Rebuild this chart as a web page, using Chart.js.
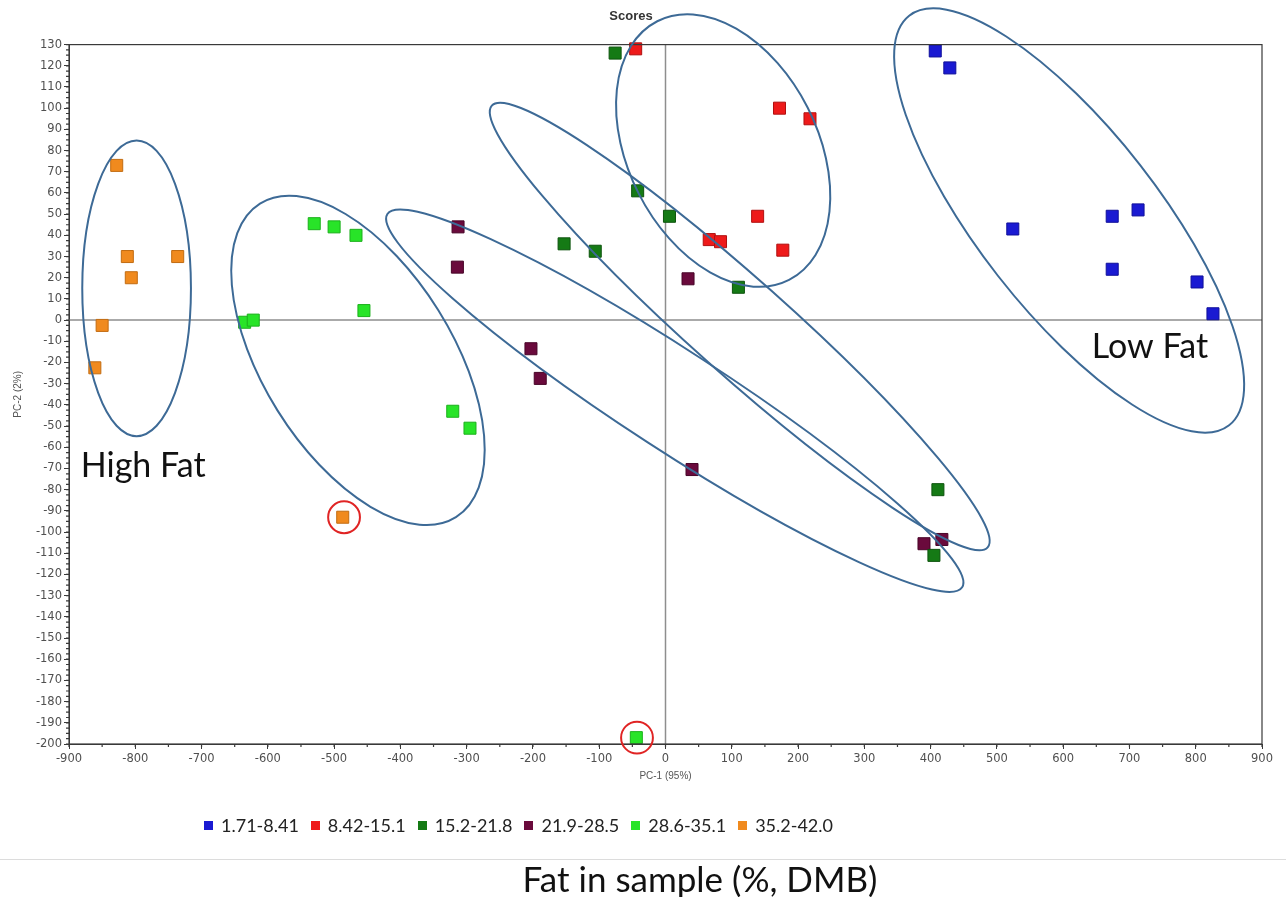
<!DOCTYPE html>
<html>
<head>
<meta charset="utf-8">
<script src="https://cdn.jsdelivr.net/npm/chart.js@4.4.0/dist/chart.umd.min.js"></script>
<style>
  html, body { margin: 0; padding: 0; background: #fff; }
  #wrap { position: relative; width: 1286px; height: 897px; overflow: hidden; }
  #wrap canvas { position: absolute; left: 0; top: 0; }
  #legend { position: absolute; left: 204px; top: 814px; display: flex; font: 18px Lato, sans-serif; line-height: 22px; color: #222; }
  .lg-item { display: flex; align-items: center; margin-right: 12px; }
  .lg-box { width: 9px; height: 9px; margin-right: 8px; }
  #sep { position: absolute; left: 0; top: 859px; width: 1286px; border-top: 1px solid #dcdcdc; }
  #caption { position: absolute; left: 450px; width: 500px; top: 857px; text-align: center; font: 35px Lato, sans-serif; line-height: 42px; color: #111; }
</style>
</head>
<body>
<div id="wrap">
  <canvas id="scores" width="1286" height="897"></canvas>
  <div id="legend"></div>
  <div id="sep"></div>
  <div id="caption">Fat in sample (%, DMB)</div>
</div>
<script>
/* ── Data (PC-1 / PC-2 scores) ─────────────────────────── */
const groupLabels = ['1.71-8.41', '8.42-15.1', '15.2-21.8', '21.9-28.5', '28.6-35.1', '35.2-42.0'];

const blueX = [407, 429, 524, 674, 713, 674, 802, 826];
const blueY = [127, 119, 43, 49, 52, 24, 18, 3];

const redX = [-45, 172, 218, 139, 66, 83, 177];
const redY = [128, 100, 95, 49, 38, 37, 33];

const darkGreenX = [-76, -42, 6, -153, -106, 110, 411, 405];
const darkGreenY = [126, 61, 49, 36, 32.5, 15.5, -80, -111];

const maroonX = [-313, -314, -203, -189, 34, 40, 390, 417];
const maroonY = [44, 25, -13.5, -27.5, 19.5, -70.5, -105.5, -103.5];

const lightGreenX = [-530, -500, -467, -455, -635, -622, -321, -295, -44];
const lightGreenY = [45.5, 44, 40, 4.5, -1, 0, -43, -51, -197];

const orangeX = [-828, -812, -806, -736, -850, -861, -487];
const orangeY = [73, 30, 20, 30, -2.5, -22.5, -93];

const xTickMin = -900, xTickMax = 900, xTickStep = 100;
const yTickMin = -200, yTickMax = 130, yTickStep = 10;

/* cluster outlines: centre (data), half-axes in PC-1 units, tilt on screen (deg) */
const ellipseCx = [-798, -464, 14, 112, 87, 609];
const ellipseCy = [15, -19, -38, -3, 80, 47];
const ellipseA = [223, 279, 517, 501, 219, 392];
const ellipseB = [82, 143, 75, 72, 143, 136];
const ellipseTilt = [90, 58, 33, 41.7, 63, 52];

/* outliers ringed in red */
const ringX = [-485, -43];
const ringY = [-93, -197];

const noteText = ['High Fat', 'Low Fat'];
const noteX = [-788, 731];
const noteY = [-69, -12.5];

/* ── Styling ─────────────────────────────────────────── */
const groupX = [blueX, redX, darkGreenX, maroonX, lightGreenX, orangeX];
const groupY = [blueY, redY, darkGreenY, maroonY, lightGreenY, orangeY];
const groupFill = ['#1a1ad2', '#ee1a1a', '#157a15', '#6a0a3c', '#28e428', '#f08a1e'];
const groupEdge = ['#10109a', '#b01010', '#0d540d', '#480528', '#1cb01c', '#c26c12'];

const tickFont = { family: 'DejaVu Sans, Verdana, sans-serif', size: 11.5 };
const axisTitleFont = { family: 'Liberation Sans, Arial, sans-serif', size: 10 };

const overlay = {
  id: 'overlay',
  beforeDatasetsDraw(chart) {
    const { ctx, chartArea: a, scales: { x, y } } = chart;
    const x0 = x.getPixelForValue(0), y0 = y.getPixelForValue(0);
    ctx.save();
    ctx.strokeStyle = '#8e8e8e';
    ctx.lineWidth = 1.5;
    ctx.beginPath();
    ctx.moveTo(x0, a.top); ctx.lineTo(x0, a.bottom);
    ctx.moveTo(a.left, y0); ctx.lineTo(a.right, y0);
    ctx.stroke();
    ctx.restore();
  },
  afterDatasetsDraw(chart) {
    const { ctx, chartArea: a, scales: { x, y } } = chart;
    const unit = Math.abs(x.getPixelForValue(1) - x.getPixelForValue(0));
    ctx.save();

    // frame + minor ticks
    ctx.strokeStyle = '#3a3a3a';
    ctx.lineWidth = 1.2;
    ctx.strokeRect(a.left, a.top, a.right - a.left, a.bottom - a.top);
    ctx.beginPath();
    for (let v = xTickMin; v <= xTickMax; v += xTickStep / 2) {
      const px = x.getPixelForValue(v);
      ctx.moveTo(px, a.bottom); ctx.lineTo(px, a.bottom + 3);
    }
    for (let v = yTickMin; v <= yTickMax; v += yTickStep / 4) {
      const py = y.getPixelForValue(v);
      ctx.moveTo(a.left, py); ctx.lineTo(a.left - 3, py);
    }
    ctx.stroke();

    // cluster ellipses
    ctx.strokeStyle = '#3d6a96';
    ctx.lineWidth = 2;
    ellipseCx.forEach((cx, i) => {
      ctx.beginPath();
      ctx.ellipse(x.getPixelForValue(cx), y.getPixelForValue(ellipseCy[i]),
        ellipseA[i] * unit, ellipseB[i] * unit, ellipseTilt[i] * Math.PI / 180, 0, Math.PI * 2);
      ctx.stroke();
    });

    // red rings
    ctx.strokeStyle = '#e02424';
    ringX.forEach((rx, i) => {
      ctx.beginPath();
      ctx.arc(x.getPixelForValue(rx), y.getPixelForValue(ringY[i]), 24 * unit, 0, Math.PI * 2);
      ctx.stroke();
    });

    // notes
    ctx.fillStyle = '#111';
    ctx.font = '34px Lato, sans-serif';
    ctx.textAlign = 'center';
    ctx.textBaseline = 'middle';
    noteText.forEach((t, i) => ctx.fillText(t, x.getPixelForValue(noteX[i]), y.getPixelForValue(noteY[i])));
    ctx.restore();
  }
};

new Chart(document.getElementById('scores'), {
  type: 'scatter',
  data: {
    datasets: groupLabels.map((label, i) => ({
      label,
      data: groupX[i].map((v, j) => ({ x: v, y: groupY[i][j] })),
      backgroundColor: groupFill[i],
      borderColor: groupEdge[i],
      borderWidth: 1,
      pointStyle: 'rect',
      pointRadius: 8.5,
      clip: false
    }))
  },
  options: {
    responsive: false,
    animation: false,
    events: [],
    layout: { padding: { left: 0, right: 24, top: 0, bottom: 103 } },
    plugins: {
      legend: { display: false },
      tooltip: { enabled: false },
      title: {
        display: true,
        text: 'Scores',
        color: '#333',
        font: { family: 'Liberation Sans, Arial, sans-serif', size: 13, weight: 'bold' },
        padding: { top: 9, bottom: 20 }
      }
    },
    scales: {
      x: {
        type: 'linear',
        min: xTickMin, max: xTickMax,
        afterFit: s => { s.height = 50; },
        ticks: { stepSize: xTickStep, color: '#505050', font: tickFont, maxRotation: 0, padding: 3 },
        grid: { drawOnChartArea: false, drawTicks: true, tickLength: 5, color: '#3a3a3a' },
        border: { color: '#3a3a3a' },
        title: { display: true, text: 'PC-1 (95%)', color: '#555', font: axisTitleFont, padding: { top: 0, bottom: 12 } }
      },
      y: {
        type: 'linear',
        min: yTickMin, max: yTickMax,
        afterFit: s => { s.width = 69; },
        ticks: { stepSize: yTickStep, autoSkip: false, color: '#505050', font: tickFont, padding: 2 },
        grid: { drawOnChartArea: false, drawTicks: true, tickLength: 5, color: '#3a3a3a' },
        border: { color: '#3a3a3a' },
        title: { display: true, text: 'PC-2 (2%)', color: '#555', font: axisTitleFont, padding: { top: 12, bottom: 0 } }
      }
    }
  },
  plugins: [overlay]
});

/* ── HTML legend ───────────────────────────────────────── */
document.getElementById('legend').innerHTML = groupLabels.map((label, i) => `
  <div class="lg-item"><span class="lg-box" style="background:${groupFill[i]}"></span>${label}</div>
`).join('');
</script>
</body>
</html>
